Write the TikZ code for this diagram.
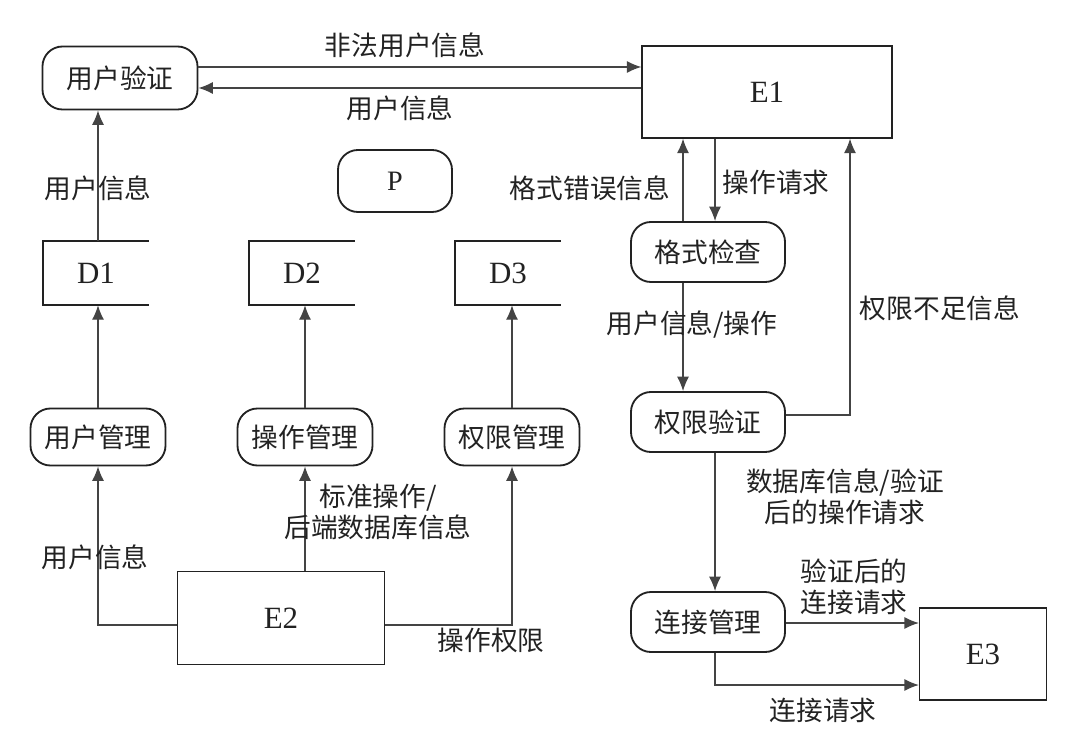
\documentclass[tikz,border=0pt]{standalone}
\usepackage{fontspec}
\setmainfont{Liberation Serif}
\newfontfamily\cjk{Noto Sans CJK SC}
\usetikzlibrary{arrows.meta,calc}

\definecolor{ink}{HTML}{222222}
\definecolor{wire}{HTML}{444444}

\tikzset{
  proc/.style={draw=ink, line width=1.3pt, rounded corners=0.5cm, inner sep=0pt,
    font=\cjk\fontsize{19}{22}\selectfont, text=ink},
  ent/.style={draw=ink, line width=0.9pt, inner sep=0pt,
    font=\fontsize{22}{24}\selectfont, text=ink},
  store/.style={inner sep=0pt, minimum width=2.625cm, minimum height=1.6cm,
    font=\fontsize{22}{24}\selectfont, text=ink},
  flow/.style={draw=wire, line width=0.9pt, -{Latex[length=0.36cm,width=0.3cm]}},
  lbl/.style={font=\cjk\fontsize{19}{22}\selectfont, text=ink, align=center, inner sep=0pt}
}

\begin{document}
\begin{tikzpicture}[x=0.025cm, y=-0.025cm]
        \useasboundingbox (0,0) rectangle (1082,753);

        % Processus
        \node[proc, minimum width=3.875cm, minimum height=1.575cm] (auth) at (120,78) {用户验证};
        \node[proc, minimum width=2.85cm, minimum height=1.55cm, font=\fontsize{20}{22}\selectfont] (p) at (395,181) {P};
        \node[proc, minimum width=3.375cm, minimum height=1.425cm] (umgr) at (98,437) {用户管理};
        \node[proc, minimum width=3.375cm, minimum height=1.425cm] (omgr) at (305,437) {操作管理};
        \node[proc, minimum width=3.375cm, minimum height=1.425cm] (rmgr) at (512,437) {权限管理};
        \node[proc, minimum width=3.85cm, minimum height=1.5cm] (fchk) at (708,252) {格式检查};
        \node[proc, minimum width=3.85cm, minimum height=1.5cm] (rchk) at (708,422) {权限验证};
        \node[proc, minimum width=3.85cm, minimum height=1.5cm] (conn) at (708,622) {连接管理};

        % Entites externes
        \node[ent, minimum width=6.25cm, minimum height=2.3cm] (e1) at (767,92) {E1};
        \node[ent, minimum width=5.175cm, minimum height=2.325cm] (e2) at (281,618) {E2};
        \node[ent, minimum width=3.175cm, minimum height=2.3cm] (e3) at (983,654) {E3};

        % Stockages (rectangles ouverts)
        \node[store] (d1) at (96,273) {D1};
        \node[store] (d2) at (302,273) {D2};
        \node[store] (d3) at (508,273) {D3};
        \foreach \d in {d1,d2,d3}
            \draw[ink, line width=1.3pt] (\d.north east) -- (\d.north west) -- (\d.south west) -- (\d.south east);

        % Flux entre verification et E1
        \draw[flow] (auth.east |- 0,67) -- (e1.west |- 0,67);
        \node[lbl] (l1) at (405,45) {非法用户信息};
        \draw[flow] (e1.west |- 0,88) -- (auth.east |- 0,88);
        \node[lbl] (l2) at (400,108) {用户信息};

        % Flux vers les stockages
        \draw[flow] (d1.north -| 98,0) -- (auth.south -| 98,0);
        \node[lbl] (l3) at (98,188) {用户信息};
        \draw[flow] (umgr.north) -- (d1.south -| umgr.north);
        \draw[flow] (omgr.north) -- (d2.south -| omgr.north);
        \draw[flow] (rmgr.north) -- (d3.south -| rmgr.north);

        % Flux depuis E2
        \draw[flow] (e2.west |- 0,625) -| (umgr.south);
        \node[lbl] (l4) at (95,557) {用户信息};
        \draw[flow] (e2.north -| omgr.south) -- (omgr.south);
        \node[lbl] (l5) at (378,512) {标准操作/\\后端数据库信息};
        \draw[flow] (e2.east |- 0,625) -| (rmgr.south);
        \node[lbl] (l6) at (491,640) {操作权限};

        % Chaine de traitement a droite
        \draw[flow] (fchk.north -| 683,0) -- (e1.south -| 683,0);
        \node[lbl] (l7) at (590,188) {格式错误信息};
        \draw[flow] (e1.south -| 715,0) -- (fchk.north -| 715,0);
        \node[lbl] (l8) at (776,182) {操作请求};
        \draw[flow] (fchk.south -| 683,0) -- (rchk.north -| 683,0);
        \node[lbl] (l9) at (692,325) {用户信息/操作};
        \draw[flow] (rchk.east |- 0,415) -| (e1.south -| 850,0);
        \node[lbl] (l10) at (940,308) {权限不足信息};
        \draw[flow] (rchk.south -| 715,0) -- (conn.north -| 715,0);
        \node[lbl] (l11) at (845,497) {数据库信息/验证\\后的操作请求};

        % Vers E3
        \draw[flow] (conn.east |- 0,623) -- (e3.west |- 0,623);
        \node[lbl] (l12) at (854,587) {验证后的\\连接请求};
        \coordinate (bend) at (715,685);
        \draw[flow] (conn.south -| bend) -- (bend) -- (e3.west |- bend);
        \node[lbl] (l13) at (823,710) {连接请求};
\end{tikzpicture}
\end{document}
